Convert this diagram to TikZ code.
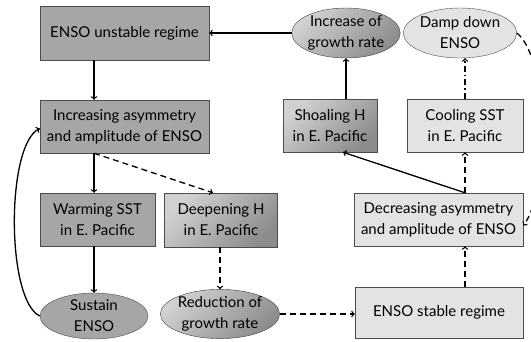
\documentclass[tikz,border=0pt]{standalone}
\usepackage{fontspec}
\setmainfont{Lato}
\usetikzlibrary{shapes.geometric}

\begin{document}
\begin{tikzpicture}[x=1pt,y=-1pt,
	box/.style={draw=black!70,fill=black!35,align=center,inner sep=0pt,font=\fontsize{15}{21}\selectfont},
	lite/.style={box,fill=black!11},
	fade/.style={box,top color=black!18,bottom color=black!45,shading angle=45},
	oval/.style={box,ellipse},
	arr/.style={->,line width=1.3pt},
	darr/.style={arr,dash pattern=on 6pt off 4pt}]
	\useasboundingbox (0,0) rectangle (531,341);

	\node[box,minimum width=169pt,minimum height=54pt] (unstable) at (124.5,33) {ENSO unstable regime};
	\node[box,minimum width=169pt,minimum height=53pt] (incr) at (124.5,126.5) {Increasing asymmetry\\and amplitude of ENSO};
	\node[box,minimum width=115pt,minimum height=53pt] (warm) at (97.5,219.5) {Warming SST\\in E. Pacific};
	\node[fade,minimum width=113pt,minimum height=54pt] (deep) at (221,220) {Deepening H\\in E. Pacific};
	\node[oval,minimum width=108pt,minimum height=46pt] (sustain) at (94,316) {Sustain\\ENSO};
	\node[oval,fade,minimum width=104pt,minimum height=48pt] (reduc) at (220,314) {Reduction of\\growth rate};
	\node[lite,minimum width=168pt,minimum height=51pt] (stable) at (439,312.5) {ENSO stable regime};
	\node[lite,minimum width=169pt,minimum height=53pt] (decr) at (438.5,219.5) {Decreasing asymmetry\\and amplitude of ENSO};
	\node[fade,minimum width=94pt,minimum height=53pt] (shoal) at (330,125.5) {Shoaling H\\in E. Pacific};
	\node[lite,minimum width=116pt,minimum height=53pt] (cool) at (465,125.5) {Cooling SST\\in E. Pacific};
	\node[oval,fade,minimum width=97pt,minimum height=50pt] (incgr) at (346,33) {Increase of\\growth rate};
	\node[oval,lite,minimum width=106pt,minimum height=50pt] (damp) at (460,33) {Damp down\\ENSO};

	\draw[arr] (incgr) -- (unstable);
	\draw[arr] (unstable.south -| sustain) -- (incr.north -| sustain);
	\draw[arr] (incr.south -| sustain) -- (warm.north -| sustain);
	\draw[arr] (warm.south -| sustain) -- (sustain);
	\draw[darr] (incr.south -| sustain) -- ([xshift=-8pt]deep.north);
	\draw[darr] (deep.south -| reduc) -- (reduc);
	\draw[darr] (reduc.east) -- (reduc.east -| stable.west);
	\draw[darr] (stable.north -| cool) -- (decr.south -| cool);
	\draw[darr] (decr.north -| cool) -- (cool);
	\draw[arr] (decr.north -| cool) -- ([xshift=13pt]shoal.south);
	\draw[arr] (shoal.north -| incgr) -- (incgr);
	\draw[arr,dash pattern=on 6pt off 3pt on 1.5pt off 3pt] (cool) -- (damp.south -| cool);
	\draw[arr] (sustain.west) .. controls (6,300) and (6,145) .. ([yshift=-2pt]incr.west);
	\draw[darr] (damp.east) .. controls (550,60) and (548,195) .. ([yshift=-6pt]decr.east);
\end{tikzpicture}
\end{document}
